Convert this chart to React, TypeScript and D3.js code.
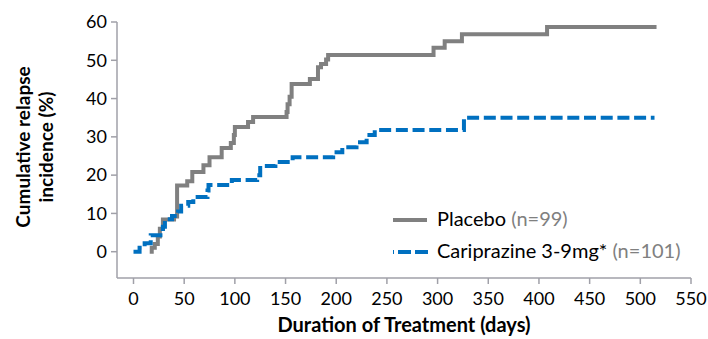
import React from "react";
import * as d3 from "d3";

const xTicks = [0, 50, 100, 150, 200, 250, 300, 350, 400, 450, 500, 550];
const yTicks = [0, 10, 20, 30, 40, 50, 60];

// Kaplan-Meier style step data: [day, cumulative %]
const placeboDays = [16, 18, 21, 24, 26, 29, 40, 43, 53, 58, 69, 75, 87, 96, 99, 100, 113, 118, 151, 152, 154, 156, 174, 182, 185, 190, 192, 296, 307, 324, 408, 516];
const placeboPct = [0, 1, 2, 4, 6, 8.4, 9.2, 17.3, 18.4, 20.8, 22.6, 24.7, 27.1, 28.4, 30.5, 32.6, 33.9, 35.2, 36.5, 38.5, 40.5, 43.8, 45.1, 48.2, 49.0, 50.2, 51.4, 53.3, 55.0, 56.8, 58.7, 58.7];

const caripDays = [0, 6, 11, 17, 29, 31, 38, 44, 47, 54, 59, 73, 74, 97, 122, 125, 140, 157, 197, 206, 220, 230, 238, 326, 514];
const caripPct = [0, 1.0, 2.2, 4.3, 6.5, 8.5, 9.3, 10.5, 12, 13, 14.3, 16, 17.4, 18.7, 20, 22.4, 23.4, 24.7, 26, 27.3, 28.6, 30.5, 31.8, 35.0, 35.0];

const FONT = "Lato, 'Liberation Sans', sans-serif";
const AXIS = "#a0a0a8";
const GRAY = "#808080";
const BLUE = "#0070C0";

export default function App() {
  const W = 708, H = 339;
  const x = d3.scaleLinear().domain([0, 550]).range([133.5, 691]);
  const y = d3.scaleLinear().domain([0, 60]).range([251.7, 22]);
  const left = 117, bottom = 278;

  const line = d3.line<[number, number]>().x(d => x(d[0])).y(d => y(d[1])).curve(d3.curveStepAfter);
  const placebo: [number, number][] = placeboDays.map((d, i) => [d, placeboPct[i]]);
  const carip: [number, number][] = caripDays.map((d, i) => [d, caripPct[i]]);

  return (
    <svg width={W} height={H} style={{ position: "absolute", left: 0, top: 0, background: "#fff" }} fontFamily={FONT}>
      {/* frame */}
      <line x1={left} x2={left} y1={y(60)} y2={bottom} stroke={AXIS} strokeWidth={1.5} />
      <line x1={left} x2={x(550)} y1={bottom} y2={bottom} stroke={AXIS} strokeWidth={1.5} />
      {yTicks.map(t => (
        <g key={"y" + t}>
          <line x1={left - 6} x2={left} y1={y(t)} y2={y(t)} stroke={AXIS} strokeWidth={1.5} />
          <text x={107} y={y(t)} dy="0.35em" textAnchor="end" fontSize={18} fill="#000">{t}</text>
        </g>
      ))}
      {xTicks.map(t => (
        <g key={"x" + t}>
          <line x1={x(t)} x2={x(t)} y1={bottom} y2={bottom + 6} stroke={AXIS} strokeWidth={1.5} />
          <text x={x(t)} y={305} textAnchor="middle" fontSize={18} fill="#000">{t}</text>
        </g>
      ))}
      <text x={404} y={332} textAnchor="middle" fontSize={20} fontWeight="bold" fill="#000">Duration of Treatment (days)</text>
      <g transform="translate(30,147) rotate(-90)">
        <text x={0} y={0} textAnchor="middle" fontSize={19} fontWeight="bold" fill="#000">Cumulative relapse</text>
        <text x={0} y={23} textAnchor="middle" fontSize={19} fontWeight="bold" fill="#000">incidence (%)</text>
      </g>

      {/* series */}
      <path d={line(placebo) || ""} fill="none" stroke={GRAY} strokeWidth={4} />
      <path d={line(carip) || ""} fill="none" stroke={BLUE} strokeWidth={4} strokeDasharray="12 4.7" />

      {/* legend */}
      <line x1={393} x2={427} y1={220} y2={220} stroke={GRAY} strokeWidth={4} />
      <text x={437} y={226} fontSize={20} fill="#000">Placebo <tspan fill={GRAY}>(n=99)</tspan></text>
      <path d="M428,252 L393,252" stroke={BLUE} strokeWidth={4} strokeDasharray="13 4" />
      <text x={437} y={258} fontSize={20} fill="#000">Cariprazine 3-9mg* <tspan fill={GRAY}>(n=101)</tspan></text>
    </svg>
  );
}
